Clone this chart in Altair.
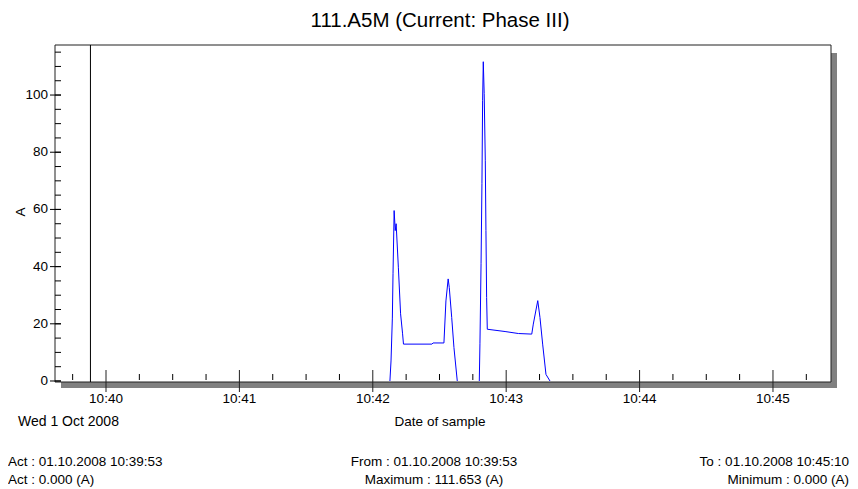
import altair as alt
import pandas as pd

DATE = "2008-10-01"

# ---- data ----
seg1_times = ["10:42:07.7", "10:42:08.2", "10:42:08.8", "10:42:09.1", "10:42:09.6",
              "10:42:10.1", "10:42:10.5", "10:42:11.5", "10:42:12.5", "10:42:13.4",
              "10:42:13.8", "10:42:26.6", "10:42:27.1", "10:42:32.0", "10:42:32.9",
              "10:42:33.9", "10:42:34.4", "10:42:35.5", "10:42:36.5", "10:42:38.0"]
seg1_values = [0.0, 7.0, 22.0, 37.5, 59.6, 52.6, 55.0, 39.8, 23.5, 16.5,
               12.9, 12.9, 13.3, 13.3, 28.0, 35.7, 32.7, 22.2, 11.7, 0.0]

seg2_times = ["10:42:47.9", "10:42:48.2", "10:42:48.7", "10:42:49.1", "10:42:49.4",
              "10:42:49.7", "10:42:50.1", "10:42:50.6", "10:42:50.9", "10:42:51.2",
              "10:42:51.5", "10:42:59.5", "10:43:05.5", "10:43:11.5", "10:43:12.2",
              "10:43:14.2", "10:43:15.2", "10:43:16.4", "10:43:17.9", "10:43:19.7"]
seg2_values = [0.0, 13.0, 41.0, 69.0, 98.0, 111.653, 100.6, 77.2, 52.6, 29.2,
               18.1, 17.3, 16.6, 16.4, 19.9, 28.1, 22.2, 12.9, 2.3, 0.0]

cursor_time = "10:39:53"

y_major = [0, 20, 40, 60, 80, 100]
y_minor = [0, 5, 10, 15, 20, 25, 30, 35, 40, 45, 50, 55, 60, 65, 70, 75,
           80, 85, 90, 95, 100, 105, 110, 115]

x_major = ["10:40:00", "10:41:00", "10:42:00", "10:43:00", "10:44:00", "10:45:00"]
x_major_labels = ["10:40", "10:41", "10:42", "10:43", "10:44", "10:45"]
x_minor = ["10:39:45", "10:40:15", "10:40:30", "10:40:45", "10:41:15", "10:41:30",
           "10:41:45", "10:42:15", "10:42:30", "10:42:45", "10:43:15", "10:43:30",
           "10:43:45", "10:44:15", "10:44:30", "10:44:45", "10:45:15"]

title_text = "111.A5M (Current: Phase III)"
y_title = "A"
date_text = "Wed 1 Oct 2008"
x_title = "Date of sample"
info_left = ["Act : 01.10.2008 10:39:53", "Act : 0.000 (A)"]
info_mid = ["From : 01.10.2008 10:39:53", "Maximum : 111.653 (A)"]
info_right = ["To : 01.10.2008 10:45:10", "Minimum : 0.000 (A)"]

# ---- build tables ----
def ts(t):
    return pd.to_datetime(DATE + " " + t)

line_df = pd.DataFrame({
    "time": [ts(t) for t in seg1_times + seg2_times],
    "value": seg1_values + seg2_values,
    "seg": ["a"] * len(seg1_times) + ["b"] * len(seg2_times),
})
cursor_df = pd.DataFrame({"time": [ts(cursor_time)]})
ymaj_df = pd.DataFrame({"v": y_major, "label": [str(v) for v in y_major]})
ymin_df = pd.DataFrame({"v": y_minor})
xmaj_df = pd.DataFrame({"time": [ts(t) for t in x_major], "label": x_major_labels})
xmin_df = pd.DataFrame({"time": [ts(t) for t in x_minor]})
one = pd.DataFrame({"k": [0]})

W, H = 776, 337
FONT = "Liberation Sans, Arial, sans-serif"
FS = 13.5

xs = alt.Scale(domain=[alt.DateTime(year=2008, month=10, date=1, hours=10, minutes=39, seconds=37, milliseconds=60),
                       alt.DateTime(year=2008, month=10, date=1, hours=10, minutes=45, seconds=26, milliseconds=100)],
               nice=False)
ys = alt.Scale(domain=[-0.35, 117.5], nice=False, zero=False)

X = alt.X("time:T", scale=xs, axis=None)
Y = alt.Y("v:Q", scale=ys, axis=None)

shadow = alt.Chart(one).mark_rect(color="#808080").encode(
    x=alt.value(6), x2=alt.value(W + 6), y=alt.value(8), y2=alt.value(H + 6))
panel = alt.Chart(one).mark_rect(fill="white", stroke="#202020", strokeWidth=1).encode(
    x=alt.value(0), x2=alt.value(W), y=alt.value(0), y2=alt.value(H))

cursor = alt.Chart(cursor_df).mark_rule(color="#000000", strokeWidth=1).encode(
    x=X, y=alt.value(0), y2=alt.value(H))

line = alt.Chart(line_df).mark_line(color="#0000ff", strokeWidth=1).encode(
    x=X, y=alt.Y("value:Q", scale=ys, axis=None), detail="seg:N")

ymaj_ticks = alt.Chart(ymaj_df).mark_rule(color="#000000").encode(
    y=Y, x=alt.value(-5), x2=alt.value(6))
ymin_ticks = alt.Chart(ymin_df).mark_rule(color="#000000").encode(
    y=Y, x=alt.value(0), x2=alt.value(6))
ylabels = alt.Chart(ymaj_df).mark_text(align="right", baseline="middle", font=FONT,
                                       fontSize=FS, color="black").encode(
    y=Y, x=alt.value(-7), text="label:N")

xmaj_ticks = alt.Chart(xmaj_df).mark_rule(color="#202020").encode(
    x=X, y=alt.value(H - 12), y2=alt.value(H + 10))
xmin_ticks = alt.Chart(xmin_df).mark_rule(color="#000000").encode(
    x=X, y=alt.value(H - 8), y2=alt.value(H - 2))
xlabels = alt.Chart(xmaj_df).mark_text(align="center", baseline="alphabetic", font=FONT,
                                       fontSize=FS, color="black").encode(
    x=X, y=alt.value(H + 21), text="label:N")


def label(text, x, y, align="left", size=FS, angle=0):
    kw = dict(align=align, baseline="alphabetic", font=FONT, fontSize=size, color="black")
    if angle:
        kw["angle"] = angle
    return alt.Chart(pd.DataFrame({"t": [text]})).mark_text(**kw).encode(
        x=alt.value(x), y=alt.value(y), text="t:N")


texts = [
    label(title_text, 385, -18, align="center", size=20.5),
    label(y_title, -30, 167, align="center", angle=270),
    label(date_text, -37, 381, size=14),
    label(x_title, 385, 381, align="center"),
    label(info_left[0], -47, 421),
    label(info_left[1], -47, 439),
    label(info_mid[0], 379, 421, align="center"),
    label(info_mid[1], 379, 439, align="center"),
    label(info_right[0], 794, 421, align="right"),
    label(info_right[1], 794, 439, align="right"),
]

chart = alt.layer(
    shadow, panel, cursor, line, ymin_ticks, ymaj_ticks, ylabels,
    xmin_ticks, xmaj_ticks, xlabels, *texts
).properties(
    width=W, height=H,
    padding={"left": 47, "top": 37, "right": 19, "bottom": 106},
    autosize=alt.AutoSizeParams(type="none"),
).configure_view(stroke=None)

chart.save("out.html", embed_options={"renderer": "svg", "actions": False})
